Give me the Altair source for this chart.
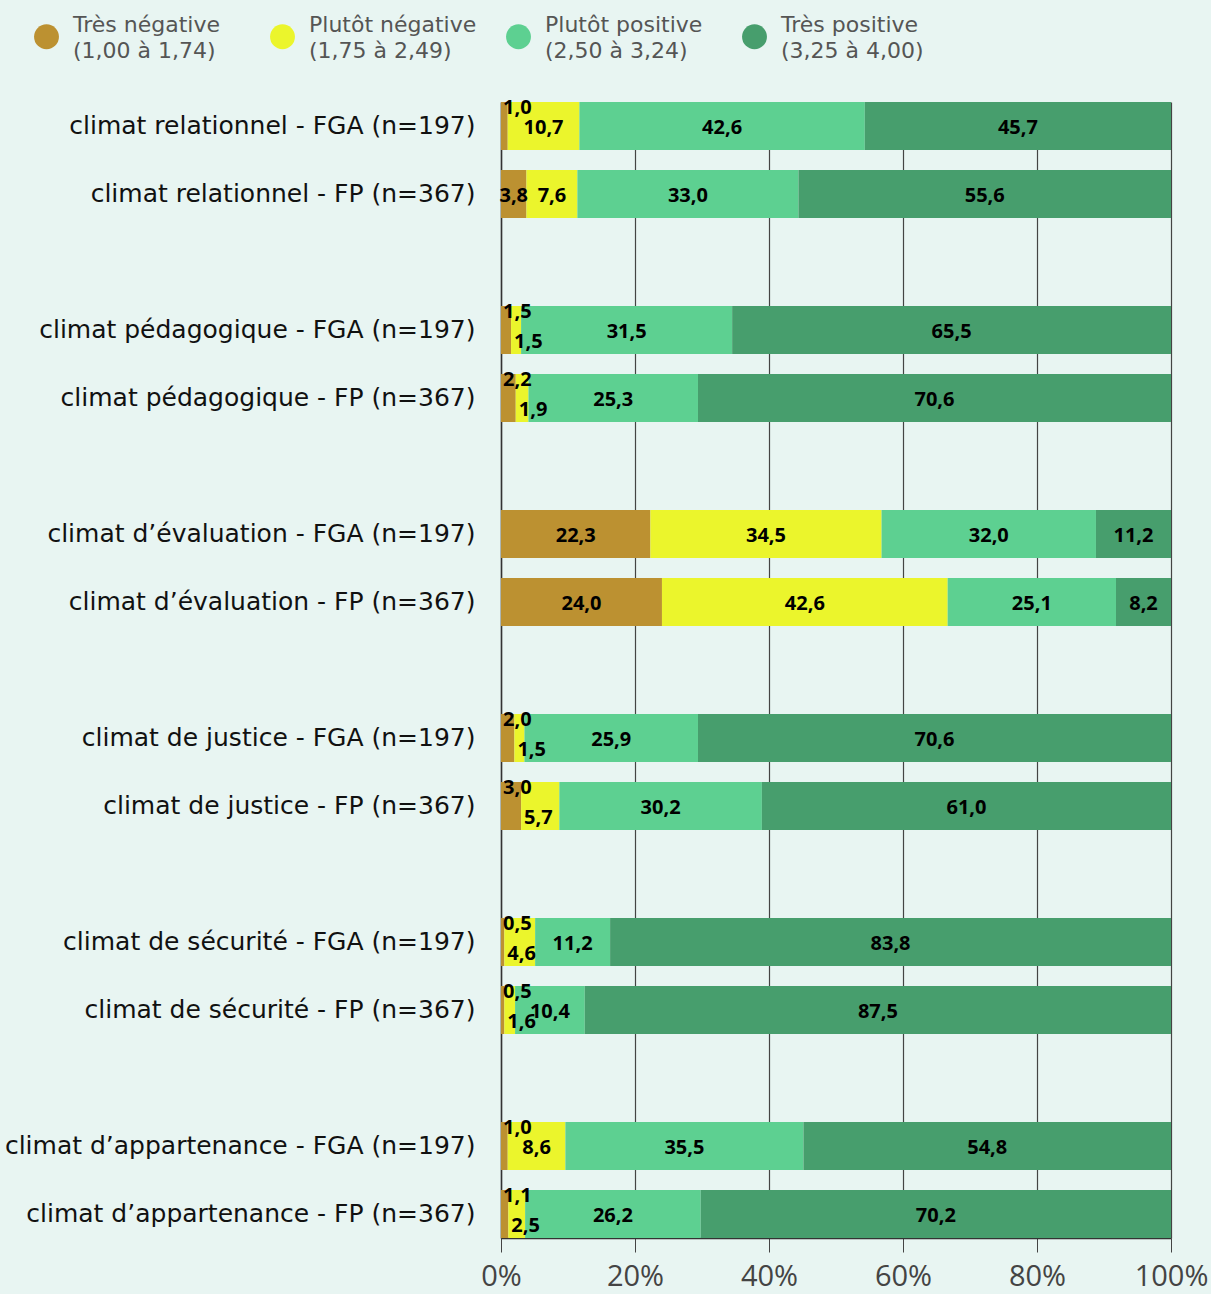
import altair as alt
import pandas as pd

# Survey dimensions and the two student populations
themes = [
    "climat relationnel",
    "climat pédagogique",
    "climat d’évaluation",
    "climat de justice",
    "climat de sécurité",
    "climat d’appartenance",
]
cohorts = ["FGA (n=197)", "FP (n=367)"]

# Perception categories (mean score ranges) and their colours
categories = ["Très négative", "Plutôt négative", "Plutôt positive", "Très positive"]
score_ranges = ["(1,00 à 1,74)", "(1,75 à 2,49)", "(2,50 à 3,24)", "(3,25 à 4,00)"]
colors = ["#bc9131", "#ebf52c", "#5dd091", "#479e6d"]

# Percentages per bar, in the order theme x cohort
tres_negative = [1.0, 3.8, 1.5, 2.2, 22.3, 24.0, 2.0, 3.0, 0.5, 0.5, 1.0, 1.1]
plutot_negative = [10.7, 7.6, 1.5, 1.9, 34.5, 42.6, 1.5, 5.7, 4.6, 1.6, 8.6, 2.5]
plutot_positive = [42.6, 33.0, 31.5, 25.3, 32.0, 25.1, 25.9, 30.2, 11.2, 10.4, 35.5, 26.2]
tres_positive = [45.7, 55.6, 65.5, 70.6, 11.2, 8.2, 70.6, 61.0, 83.8, 87.5, 54.8, 70.2]

series = [tres_negative, plutot_negative, plutot_positive, tres_positive]
rows = [f"{t} - {c}" for t in themes for c in cohorts]
legend_keys = [f"{c}\n{r}" for c, r in zip(categories, score_ranges)]

# Row order with an empty slot between themes
y_domain = []
for i, t in enumerate(themes):
    y_domain += [f"{t} - {c}" for c in cohorts]
    if i < len(themes) - 1:
        y_domain.append(" " * (i + 1))


def placement(cat_idx, value):
    # narrow segments at the start of a bar get their label moved off-centre
    if cat_idx == 0 and value < 3.5:
        return "top"
    if cat_idx == 1 and value < 6:
        return "bottom"
    return "center"


records = []
for ci, vals in enumerate(series):
    for r, v in zip(rows, vals):
        records.append({
            "row": r,
            "legend": legend_keys[ci],
            "order": ci,
            "value": v,
            "label": f"{v:.1f}".replace(".", ","),
            "place": placement(ci, v),
        })
df = pd.DataFrame(records)

FONT = "Open Sans"
WIDE_FONT = "DejaVu Sans"

base = alt.Chart(df).transform_stack(
    stack="value",
    groupby=["row"],
    sort=[alt.SortField("order", order="ascending")],
    offset="normalize",
    as_=["x0", "x1"],
).transform_calculate(mid="(datum.x0 + datum.x1) / 2")

y_enc = alt.Y(
    "row:N",
    title=None,
    scale=alt.Scale(domain=y_domain, paddingInner=20 / 68, paddingOuter=0),
    axis=alt.Axis(
        labelFont=WIDE_FONT,
        labelFontSize=25,
        labelColor="#111111",
        labelPadding=26,
        ticks=False,
        domain=True,
        domainColor="#333333",
        domainWidth=1.5,
        labelLimit=600,
    ),
)

bars = base.mark_bar().encode(
    x=alt.X(
        "x0:Q",
        title=None,
        scale=alt.Scale(domain=[0, 1], nice=False),
        axis=alt.Axis(
            values=[0, 0.2, 0.4, 0.6, 0.8, 1.0],
            format=".0%",
            labelFontSize=29,
            labelColor="#444444",
            labelPadding=10,
            labelFlush=False,
            tickSize=14,
            tickColor="#444444",
            grid=True,
            gridColor="#444444",
            gridWidth=1.2,
            domainColor="#333333",
            domainWidth=1.5,
        ),
    ),
    x2="x1:Q",
    y=y_enc,
    color=alt.Color(
        "legend:N",
        scale=alt.Scale(domain=legend_keys, range=colors),
        legend=alt.Legend(
            title=None,
            orient="none",
            legendX=-467,
            legendY=-78,
            direction="horizontal",
            columns=4,
            gridAlign="all",
            columnPadding=29,
            symbolType="circle",
            symbolSize=620,
            symbolStrokeWidth=0,
            symbolOpacity=1,
            labelFont=WIDE_FONT,
            labelFontSize=22,
            labelColor="#555555",
            labelOffset=14,
            labelLimit=300,
            labelBaseline="bottom",
            padding=0,
            labelExpr="split(datum.label, '\\n')",
        ),
    ),
)

text_style = dict(font=FONT, fontWeight="bold", fontSize=20, color="#000000")

center_txt = base.transform_filter("datum.place == 'center'").mark_text(
    align="center", baseline="middle", dy=2, **text_style
).encode(x="mid:Q", y=alt.Y("row:N"), text="label:N")

top_txt = base.transform_filter("datum.place == 'top'").mark_text(
    align="left", baseline="middle", dx=2, dy=-18, **text_style
).encode(x="x0:Q", y=alt.Y("row:N"), text="label:N")

bottom_txt = base.transform_filter("datum.place == 'bottom'").mark_text(
    align="left", baseline="middle", dx=3, dy=12, **text_style
).encode(x="x0:Q", y=alt.Y("row:N"), text="label:N")

chart = (
    alt.layer(bars, center_txt, top_txt, bottom_txt)
    .properties(
        width=670,
        height=1136,
        autosize=alt.AutoSizeParams(type="none"),
        padding={"left": 501, "top": 102, "right": 40, "bottom": 56},
    )
    .configure(
        background="#e8f5f2",
        font=FONT,
        style={"guide-label": {"lineHeight": 26}},
    )
    .configure_view(stroke=None)
)

chart.save("out.html", embed_options={"renderer": "svg", "actions": False})
